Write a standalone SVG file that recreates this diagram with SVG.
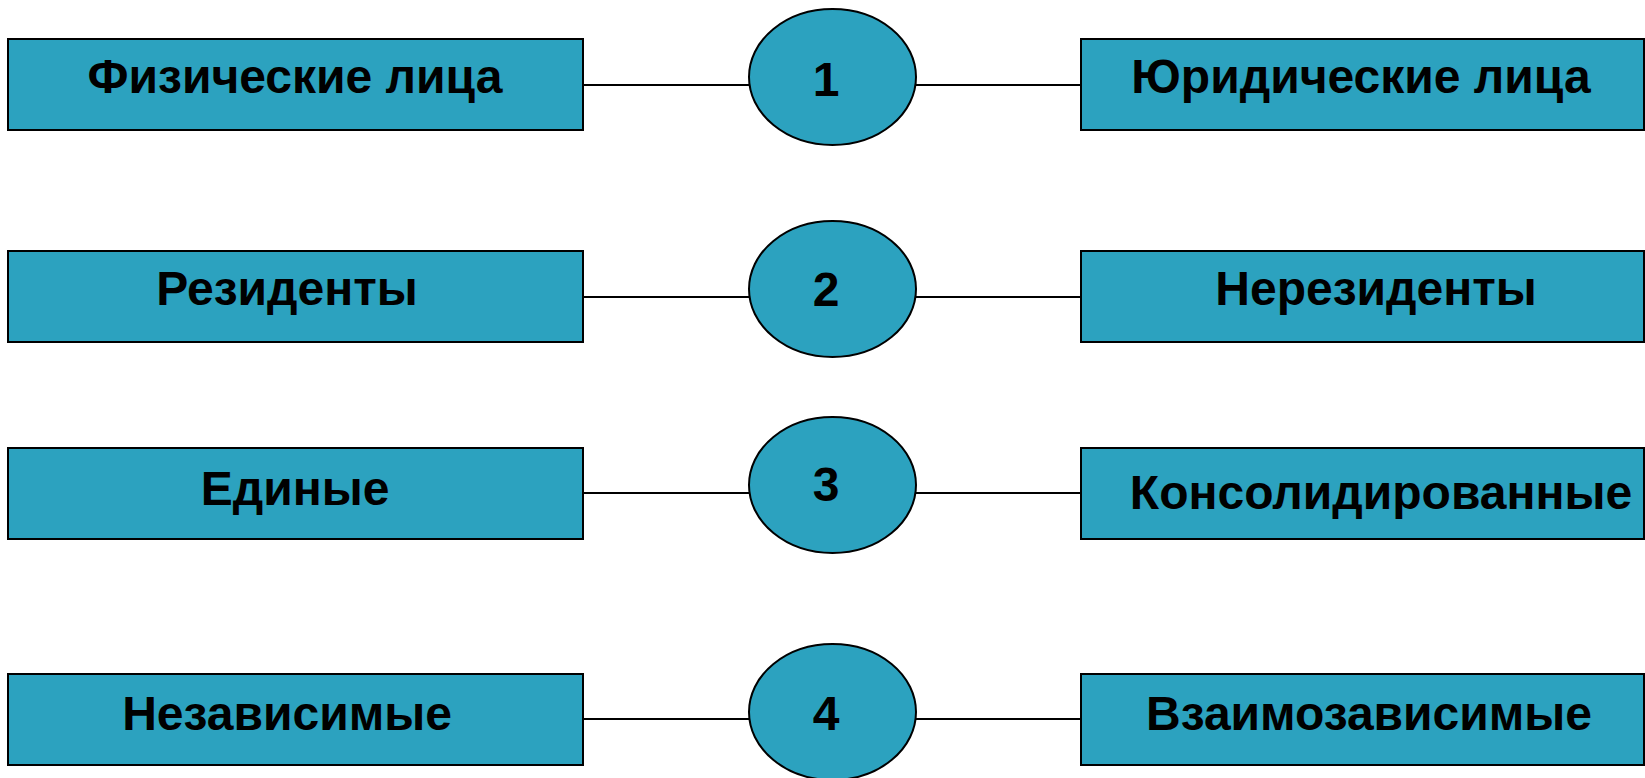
<svg xmlns="http://www.w3.org/2000/svg" width="1645" height="778" viewBox="0 0 1645 778">
<style>
.box{fill:#2ca2bf;stroke:#000;stroke-width:2}
.ov{fill:#2ca2bf;stroke:#000;stroke-width:2}
.lbl{font-family:"Liberation Sans",Arial,sans-serif;font-weight:bold;font-size:48px;fill:#000;text-anchor:middle}
.con line{stroke:#000;stroke-width:2}
</style>
<rect width="1645" height="778" fill="#fff"/>
<g id="connectors" class="con">
<line x1="583" y1="85" x2="749" y2="85"/><line x1="916" y1="85" x2="1081" y2="85"/>
<line x1="583" y1="297" x2="749" y2="297"/><line x1="916" y1="297" x2="1081" y2="297"/>
<line x1="583" y1="493" x2="749" y2="493"/><line x1="916" y1="493" x2="1081" y2="493"/>
<line x1="583" y1="719" x2="749" y2="719"/><line x1="916" y1="719" x2="1081" y2="719"/>
</g>
<g id="phys"><rect class="box" x="8" y="39" width="575" height="91"/><text class="lbl" x="295" y="93">Физические лица</text></g>
<g id="c1"><ellipse class="ov" cx="832.5" cy="77" rx="83.5" ry="68"/><text class="lbl" x="826" y="96">1</text></g>
<g id="jur"><rect class="box" x="1081" y="39" width="563" height="91"/><text class="lbl" x="1361" y="93">Юридические лица</text></g>

<g id="res"><rect class="box" x="8" y="251" width="575" height="91"/><text class="lbl" x="287" y="305">Резиденты</text></g>
<g id="c2"><ellipse class="ov" cx="832.5" cy="289" rx="83.5" ry="68"/><text class="lbl" x="826" y="306">2</text></g>
<g id="nonres"><rect class="box" x="1081" y="251" width="563" height="91"/><text class="lbl" x="1376" y="305">Нерезиденты</text></g>

<g id="single"><rect class="box" x="8" y="448" width="575" height="91"/><text class="lbl" x="295" y="505">Единые</text></g>
<g id="c3"><ellipse class="ov" cx="832.5" cy="485" rx="83.5" ry="68"/><text class="lbl" x="826" y="501">3</text></g>
<g id="cons"><rect class="box" x="1081" y="448" width="563" height="91"/><text class="lbl" x="1381" y="509">Консолидированные</text></g>

<g id="indep"><rect class="box" x="8" y="674" width="575" height="91"/><text class="lbl" x="287" y="730">Независимые</text></g>
<g id="c4"><ellipse class="ov" cx="832.5" cy="712" rx="83.5" ry="68"/><text class="lbl" x="826" y="730">4</text></g>
<g id="interdep"><rect class="box" x="1081" y="674" width="563" height="91"/><text class="lbl" x="1369" y="730">Взаимозависимые</text></g>
</svg>
